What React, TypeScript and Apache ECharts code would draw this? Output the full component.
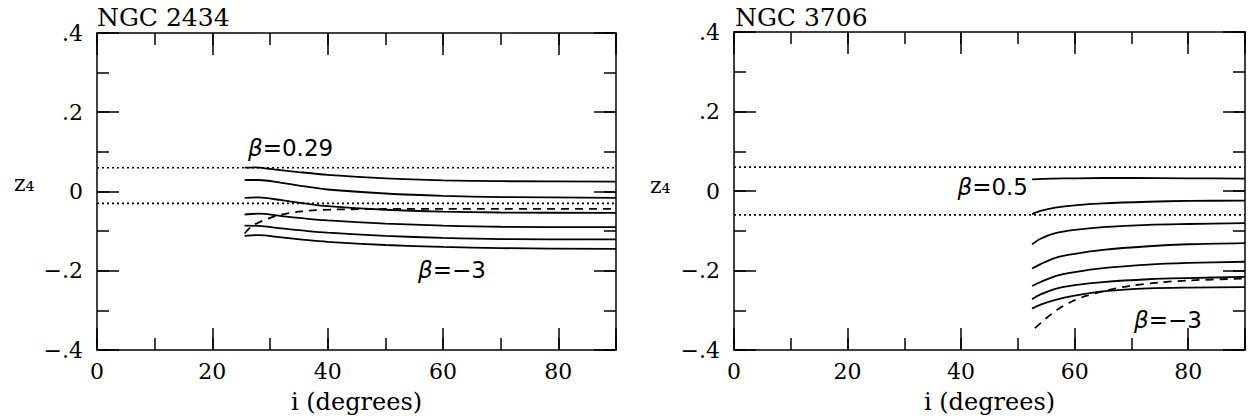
import React, { useEffect, useRef } from "react";
import * as echarts from "echarts";

// ---------- data ----------
const xMin = 0;
const xMax = 90;
const yMin = -0.4;
const yMax = 0.4;

// NGC 2434 (left panel)
const leftTitle = "NGC 2434";
const leftDotted = [0.06, -0.03];
const leftC1 = [[25.6, 0.06], [27.5, 0.061], [30, 0.057], [35, 0.049], [40, 0.042], [50, 0.033], [60, 0.028], [70, 0.026], [90, 0.025]];
const leftC2 = [[25.6, 0.029], [28, 0.029], [32, 0.022], [36, 0.013], [40, 0.005], [50, -0.005], [60, -0.011], [70, -0.014], [90, -0.016]];
const leftC3 = [[25.6, -0.016], [28, -0.015], [32, -0.022], [36, -0.03], [40, -0.037], [50, -0.046], [60, -0.051], [70, -0.053], [90, -0.054]];
const leftC4 = [[25.6, -0.058], [28, -0.056], [32, -0.062], [36, -0.068], [40, -0.073], [50, -0.081], [60, -0.086], [70, -0.089], [90, -0.09]];
const leftC5 = [[25.6, -0.086], [28, -0.087], [32, -0.093], [36, -0.099], [40, -0.104], [50, -0.112], [60, -0.117], [70, -0.12], [90, -0.121]];
const leftC6 = [[25.6, -0.112], [28, -0.11], [32, -0.116], [36, -0.122], [40, -0.127], [50, -0.135], [60, -0.14], [70, -0.143], [90, -0.145]];
const leftDashed = [[25.6, -0.106], [27, -0.086], [30.8, -0.063], [35.5, -0.05], [43, -0.045], [60, -0.044], [90, -0.044]];
const leftLabelTop = "=0.29";
const leftLabelBottom = "=−3";

// NGC 3706 (right panel)
const rightTitle = "NGC 3706";
const rightDotted = [0.06, -0.06];
const rightC1 = [[52.5, 0.029], [56, 0.031], [60, 0.032], [70, 0.033], [80, 0.032], [90, 0.031]];
const rightC2 = [[52.5, -0.058], [54, -0.05], [56.6, -0.042], [60, -0.036], [65, -0.031], [73, -0.027], [80, -0.025], [90, -0.024]];
const rightC3 = [[52.5, -0.134], [54, -0.12], [56.6, -0.106], [60, -0.098], [65, -0.091], [73, -0.085], [80, -0.083], [90, -0.081]];
const rightC4 = [[52.5, -0.195], [54, -0.184], [56.6, -0.168], [60, -0.158], [65, -0.148], [73, -0.139], [80, -0.134], [90, -0.131]];
const rightC5 = [[52.5, -0.239], [54, -0.229], [56.6, -0.214], [60, -0.204], [65, -0.194], [73, -0.185], [80, -0.181], [90, -0.178]];
const rightC6 = [[52.5, -0.272], [54, -0.26], [56.6, -0.246], [60, -0.237], [65, -0.229], [73, -0.222], [80, -0.219], [90, -0.216]];
const rightC7 = [[52.5, -0.296], [54, -0.286], [56.6, -0.274], [60, -0.263], [65.4, -0.252], [73, -0.245], [80, -0.243], [90, -0.242]];
const rightDashed = [[53, -0.345], [55, -0.32], [57, -0.298], [59.5, -0.278], [62, -0.264], [65.4, -0.251], [70, -0.238], [75, -0.23], [80, -0.225], [90, -0.22]];
const rightLabelTop = "=0.5";
const rightLabelBottom = "=−3";

const xName = "i (degrees)";
const yName = "z₄";

// ---------- styling ----------
const SERIF = "DejaVu Serif";
const SANS = "DejaVu Sans";
const BLACK = "#000";
const axisLineStyle = { color: BLACK, width: 1.5 };

const yLabel = (v: number) => {
  if (Math.abs(v) < 1e-9) return "0";
  const s = "." + Math.round(Math.abs(v) * 10);
  return v < 0 ? "−" + s : s;
};

function axesFor(g: number) {
  const common = { gridIndex: g, type: "value", splitLine: { show: false } };
  const xs: any[] = [];
  const ys: any[] = [];
  (["bottom", "top"] as const).forEach((pos) => {
    xs.push({
      ...common,
      position: pos,
      min: xMin,
      max: xMax,
      interval: 20,
      axisLine: { show: true, onZero: false, lineStyle: axisLineStyle },
      axisTick: { show: true, inside: true, length: 22, lineStyle: axisLineStyle },
      axisLabel: {
        show: pos === "bottom",
        margin: 10,
        color: BLACK,
        fontFamily: SERIF,
        fontSize: 22,
        formatter: (v: number) => (v === xMax ? "" : String(v)),
      },
      name: pos === "bottom" ? xName : "",
      nameLocation: "middle",
      nameGap: 40,
      nameTextStyle: { color: BLACK, fontFamily: SERIF, fontSize: 24 },
    });
    xs.push({
      ...common,
      position: pos,
      min: xMin,
      max: xMax,
      interval: 10,
      axisLine: { show: false, onZero: false },
      axisTick: { show: true, inside: true, length: 12, lineStyle: axisLineStyle },
      axisLabel: { show: false },
    });
  });
  (["left", "right"] as const).forEach((pos) => {
    ys.push({
      ...common,
      position: pos,
      min: yMin,
      max: yMax,
      interval: 0.2,
      axisLine: { show: true, onZero: false, lineStyle: axisLineStyle },
      axisTick: { show: true, inside: true, length: 22, lineStyle: axisLineStyle },
      axisLabel: {
        show: pos === "left",
        margin: 14,
        color: BLACK,
        fontFamily: SERIF,
        fontSize: 22,
        formatter: yLabel,
      },
    });
    ys.push({
      ...common,
      position: pos,
      min: yMin,
      max: yMax,
      interval: 0.1,
      axisLine: { show: false, onZero: false },
      axisTick: { show: true, inside: true, length: 12, lineStyle: axisLineStyle },
      axisLabel: { show: false },
    });
  });
  return { xs, ys };
}

function lineSeries(g: number, data: number[][], type: any = "solid") {
  return {
    type: "line",
    xAxisIndex: g * 4,
    yAxisIndex: g * 4,
    data,
    smooth: 0.3,
    symbol: "none",
    silent: true,
    lineStyle: { color: BLACK, width: 1.8, type },
  };
}

function dottedSeries(g: number, v: number) {
  return {
    type: "line",
    xAxisIndex: g * 4,
    yAxisIndex: g * 4,
    data: [[xMin, v], [xMax, v]],
    symbol: "none",
    silent: true,
    lineStyle: { color: BLACK, width: 1.6, type: [2, 3] },
  };
}

const betaRich = {
  b: { fontFamily: SANS, fontSize: 23, fontStyle: "italic", fill: BLACK },
  n: { fontFamily: SANS, fontSize: 23, fill: BLACK },
};

function betaText(x: number, y: number, rest: string, align: string) {
  return {
    type: "text",
    x,
    y,
    silent: true,
    style: {
      text: "{b|β}{n|" + rest + "}",
      rich: betaRich,
      textAlign: align,
      textVerticalAlign: "middle",
      fill: BLACK,
    },
  };
}

function plainText(x: number, y: number, text: string, size: number, align = "left") {
  return {
    type: "text",
    x,
    y,
    silent: true,
    style: {
      text,
      fontFamily: SERIF,
      fontSize: size,
      fill: BLACK,
      textAlign: align,
      textVerticalAlign: "middle",
    },
  };
}

export default function App() {
  const ref = useRef<HTMLDivElement>(null);
  useEffect(() => {
    if (!ref.current) return;
    const chart = echarts.init(ref.current, undefined, { renderer: "svg" });
    const a0 = axesFor(0);
    const a1 = axesFor(1);
    const option: any = {
      animation: false,
      backgroundColor: "#fff",
      grid: [
        { left: 97, top: 33, width: 519, height: 324 },
        { left: 734, top: 32, width: 513, height: 325 },
      ],
      xAxis: [...a0.xs, ...a1.xs],
      yAxis: [...a0.ys, ...a1.ys],
      series: [
        dottedSeries(0, leftDotted[0]),
        dottedSeries(0, leftDotted[1]),
        lineSeries(0, leftC1),
        lineSeries(0, leftC2),
        lineSeries(0, leftC3),
        lineSeries(0, leftC4),
        lineSeries(0, leftC5),
        lineSeries(0, leftC6),
        lineSeries(0, leftDashed, [8, 6]),
        dottedSeries(1, rightDotted[0]),
        dottedSeries(1, rightDotted[1]),
        lineSeries(1, rightC1),
        lineSeries(1, rightC2),
        lineSeries(1, rightC3),
        lineSeries(1, rightC4),
        lineSeries(1, rightC5),
        lineSeries(1, rightC6),
        lineSeries(1, rightC7),
        lineSeries(1, rightDashed, [8, 6]),
      ],
      graphic: [
        plainText(97, 17, leftTitle, 25),
        plainText(735, 17, rightTitle, 25),
        plainText(14, 183, yName, 22),
        plainText(650, 185, yName, 22),
        betaText(248, 148, leftLabelTop, "left"),
        betaText(418, 270, leftLabelBottom, "left"),
        betaText(1028, 187, rightLabelTop, "right"),
        betaText(1134, 320, rightLabelBottom, "left"),
      ],
    };
    chart.setOption(option);
    return () => chart.dispose();
  }, []);
  return (
    <div
      ref={ref}
      style={{ position: "fixed", left: 0, top: 0, width: 1248, height: 419, background: "#fff" }}
    />
  );
}
